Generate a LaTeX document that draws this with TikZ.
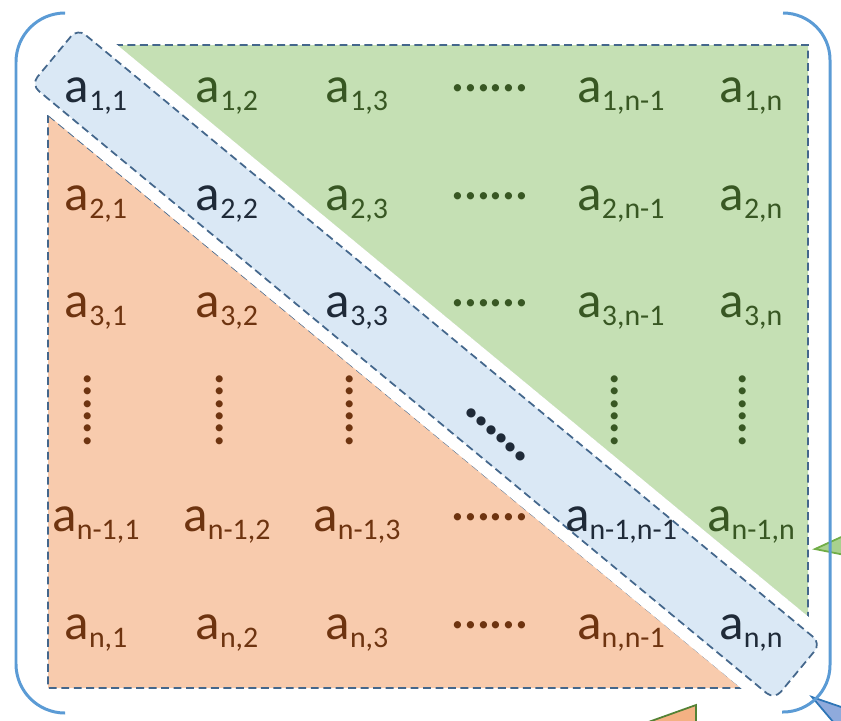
\documentclass[tikz,border=0pt]{standalone}
\usepackage{fontspec}
\setmainfont{Carlito}
\usetikzlibrary{calc,positioning,shapes}

\definecolor{grfill}{HTML}{C5E0B4}
\definecolor{orfill}{HTML}{F8CBAD}
\definecolor{blfill}{HTML}{DAE8F5}
\definecolor{edge}{HTML}{44678C}
\definecolor{grtx}{HTML}{385723}
\definecolor{ortx}{HTML}{6E3410}
\definecolor{bltx}{HTML}{1F2A38}
\definecolor{brk}{HTML}{5B9BD5}
\definecolor{orpart}{HTML}{F4B183}
\definecolor{grline}{HTML}{548235}
\definecolor{grpart}{HTML}{A9D18E}
\definecolor{grpline}{HTML}{70AD47}
\definecolor{blpart}{HTML}{8FAADC}
\definecolor{blpline}{HTML}{2E75B6}

\newcommand{\ent}[1]{a\raisebox{-5pt}{\fontsize{17}{17}\selectfont #1}}
\newcommand{\dotrow}{······}

\begin{document}
\begin{tikzpicture}[x=0.02cm,y=-0.02cm,
  ele/.style={anchor=base,inner sep=0pt,font=\fontsize{29}{30}\selectfont},
  up/.style={ele,text=grtx},
  lo/.style={ele,text=ortx},
  dg/.style={ele,text=bltx},
  vd/.style={inner sep=0pt,font=\fontsize{28}{30}\selectfont,rotate=90},
  part/.style={draw=edge,line width=1pt,dash pattern=on 4.5pt off 2.6pt},
  band/.style={rectangle,part,fill=blfill,rounded corners=0.2cm,
    minimum width=19.3cm,minimum height=1.46cm,
    preaction={draw=white,solid,line width=0.5cm}},
  brace/.style={draw=brk,line width=1.7pt}]
  \useasboundingbox (0,0) rectangle (841,720);
  \clip (0,0) rectangle (841,720);

  % pieces of neighbouring shapes at the edge
  \filldraw[fill=orpart,draw=grline,line width=1pt] (640,725) -- (696,705) -- (696,730) -- cycle;
  \filldraw[fill=grpart,draw=grpline,line width=1pt] (815,549) -- (850,533) -- (850,556) -- cycle;
  \filldraw[fill=blpart,draw=blpline,line width=1pt] (812,697) -- (850,710) -- (840,730) -- cycle;

  % triangles and diagonal
  \filldraw[part,fill=grfill] (115,45) -- (808,45) -- (808,618) -- cycle;
  \filldraw[part,fill=orfill] (48,115) -- (48,688) -- (742,688) -- cycle;
  \node[band,rotate=-39.6] (diag) at (426,364) {};

  % row 1
  \node[dg] (a11) at (96,102) {\ent{1,1}};
  \node[up] (a12) at (227,102) {\ent{1,2}};
  \node[up] (a13) at (357,102) {\ent{1,3}};
  \node[up] (r1)  at (490,102) {\dotrow};
  \node[up] (a1m) at (621,102) {\ent{1,n-1}};
  \node[up] (a1n) at (751,102) {\ent{1,n}};
  % row 2
  \node[lo] (a21) at (96,210) {\ent{2,1}};
  \node[dg] (a22) at (227,210) {\ent{2,2}};
  \node[up] (a23) at (357,210) {\ent{2,3}};
  \node[up] (r2)  at (490,210) {\dotrow};
  \node[up] (a2m) at (621,210) {\ent{2,n-1}};
  \node[up] (a2n) at (751,210) {\ent{2,n}};
  % row 3
  \node[lo] (a31) at (96,317) {\ent{3,1}};
  \node[lo] (a32) at (227,317) {\ent{3,2}};
  \node[dg] (a33) at (357,317) {\ent{3,3}};
  \node[up] (r3)  at (490,317) {\dotrow};
  \node[up] (a3m) at (621,317) {\ent{3,n-1}};
  \node[up] (a3n) at (751,317) {\ent{3,n}};
  % row 4
  \node[vd,text=ortx] (c1) at (93,410) {\dotrow};
  \node[vd,text=ortx] (c2) at (225,410) {\dotrow};
  \node[vd,text=ortx] (c3) at (355,410) {\dotrow};
  \node[inner sep=0pt,font=\fontsize{28}{30}\selectfont\bfseries,text=bltx,rotate=-41] (dd) at (493,438) {\dotrow};
  \node[vd,text=grtx] (c5) at (620,410) {\dotrow};
  \node[vd,text=grtx] (c6) at (748,410) {\dotrow};
  % row 5
  \node[lo] (am1) at (96,531) {\ent{n-1,1}};
  \node[lo] (am2) at (227,531) {\ent{n-1,2}};
  \node[lo] (am3) at (357,531) {\ent{n-1,3}};
  \node[lo] (r5)  at (490,531) {\dotrow};
  \node[dg] (amm) at (621,531) {\ent{n-1,n-1}};
  \node[up] (amn) at (751,531) {\ent{n-1,n}};
  % row 6
  \node[lo] (an1) at (96,639) {\ent{n,1}};
  \node[lo] (an2) at (227,639) {\ent{n,2}};
  \node[lo] (an3) at (357,639) {\ent{n,3}};
  \node[lo] (r6)  at (490,639) {\dotrow};
  \node[lo] (anm) at (621,639) {\ent{n,n-1}};
  \node[dg] (ann) at (751,639) {\ent{n,n}};

  % brackets
  \draw[brace,rounded corners=0.98cm] (65,13) -- (16,13) -- (16,713) -- (65,713);
  \draw[brace,rounded corners=0.94cm] (783,13) -- (830,13) -- (830,712) -- (782,712);
\end{tikzpicture}
\end{document}
